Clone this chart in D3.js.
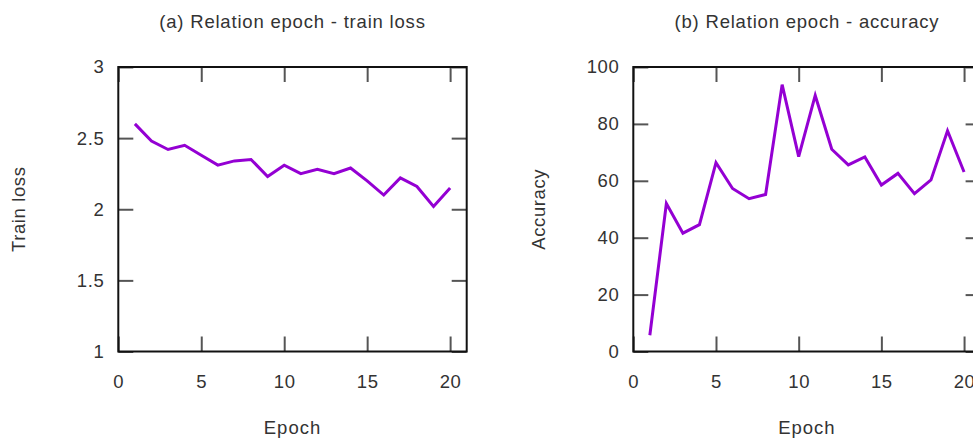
<!DOCTYPE html>
<html>
<head>
<meta charset="utf-8">
<script src="https://cdn.jsdelivr.net/npm/d3@7"></script>
<style>
  html, body { margin: 0; padding: 0; background: #fff; }
  svg { display: block; }
  text { font-family: "Liberation Sans", Arial, sans-serif; }
</style>
</head>
<body>
<svg id="chart" width="973" height="439"></svg>
<script>
// ---- Data ----
const epochs = [1,2,3,4,5,6,7,8,9,10,11,12,13,14,15,16,17,18,19,20];
const trainLoss = [2.60,2.48,2.42,2.45,2.38,2.31,2.34,2.35,2.23,2.31,2.25,2.28,2.25,2.29,2.20,2.10,2.22,2.16,2.02,2.15];
const accuracy = [5.7,52.0,41.6,44.6,66.4,57.3,53.7,55.2,93.8,68.5,90.0,71.1,65.6,68.4,58.5,62.6,55.5,60.3,77.6,63.1];
const xTicks = [0,5,10,15,20];
const lossTicks = [1,1.5,2,2.5,3];
const accTicks = [0,20,40,60,80,100];
const titles = ["(a) Relation epoch - train loss", "(b) Relation epoch - accuracy"];
const yLabels = ["Train loss", "Accuracy"];
const xLabel = "Epoch";

const svg = d3.select("#chart");
const textColor = "#333";
const tickColor = "#555";
const lineColor = "#9400D3";

const panels = [
  { left: 118.3, right: 466.7, top: 67, bottom: 351.5, yDomain: [1,3], yTicks: lossTicks, values: trainLoss, title: titles[0], yLabel: yLabels[0], yLabelX: 19 },
  { left: 633.3, right: 980.6, top: 67, bottom: 351.5, yDomain: [0,100], yTicks: accTicks, values: accuracy, title: titles[1], yLabel: yLabels[1], yLabelX: 539 }
];

panels.forEach(p => {
  const x = d3.scaleLinear().domain([0,21]).range([p.left, p.right]);
  const y = d3.scaleLinear().domain(p.yDomain).range([p.bottom, p.top]);
  const g = svg.append("g");

  const styleAxis = sel => {
    sel.select(".domain").remove();
    sel.selectAll(".tick line").attr("stroke", tickColor).attr("stroke-width", 2);
    sel.selectAll(".tick text").attr("fill", textColor).attr("font-size", 18.5)
      .style("font-family", '"Liberation Sans", Arial, sans-serif').attr("letter-spacing", 0.6);
  };

  // bottom axis
  g.append("g").attr("transform", `translate(0,${p.bottom})`)
    .call(d3.axisBottom(x).tickValues(xTicks).tickSizeInner(-15).tickSizeOuter(0).tickPadding(23.5).tickFormat(d3.format("~g")))
    .call(styleAxis);
  // top mirror
  g.append("g").attr("transform", `translate(0,${p.top})`)
    .call(d3.axisTop(x).tickValues(xTicks).tickSizeInner(-15).tickSizeOuter(0).tickFormat(""))
    .call(styleAxis);
  // left axis
  g.append("g").attr("transform", `translate(${p.left},0)`)
    .call(d3.axisLeft(y).tickValues(p.yTicks).tickSizeInner(-15).tickSizeOuter(0).tickPadding(14).tickFormat(d3.format("~g")))
    .call(styleAxis);
  // right mirror
  g.append("g").attr("transform", `translate(${p.right},0)`)
    .call(d3.axisRight(y).tickValues(p.yTicks).tickSizeInner(-15).tickSizeOuter(0).tickFormat(""))
    .call(styleAxis);

  // frame
  g.append("rect")
    .attr("x", p.left).attr("y", p.top)
    .attr("width", p.right - p.left).attr("height", p.bottom - p.top)
    .attr("fill", "none").attr("stroke", "#111").attr("stroke-width", 2);

  // line
  const line = d3.line().x((d, i) => x(epochs[i])).y(d => y(d));
  g.append("path").datum(p.values)
    .attr("d", line)
    .attr("fill", "none").attr("stroke", lineColor).attr("stroke-width", 3)
    .attr("stroke-linejoin", "miter");

  const cx = (p.left + p.right) / 2;
  // title
  g.append("text").attr("x", cx).attr("y", 28.3).attr("text-anchor", "middle")
    .attr("fill", textColor).attr("font-size", 18.5).attr("letter-spacing", 0.8).text(p.title);
  // x label
  g.append("text").attr("x", cx).attr("y", 434).attr("text-anchor", "middle")
    .attr("fill", textColor).attr("font-size", 18.5).attr("letter-spacing", 1).text(xLabel);
  // y label
  const cy = (p.top + p.bottom) / 2;
  g.append("text").attr("transform", `translate(${p.yLabelX + 6},${cy}) rotate(-90)`)
    .attr("text-anchor", "middle")
    .attr("fill", textColor).attr("font-size", 18.5).attr("letter-spacing", 0.6).text(p.yLabel);
});
</script>
</body>
</html>
